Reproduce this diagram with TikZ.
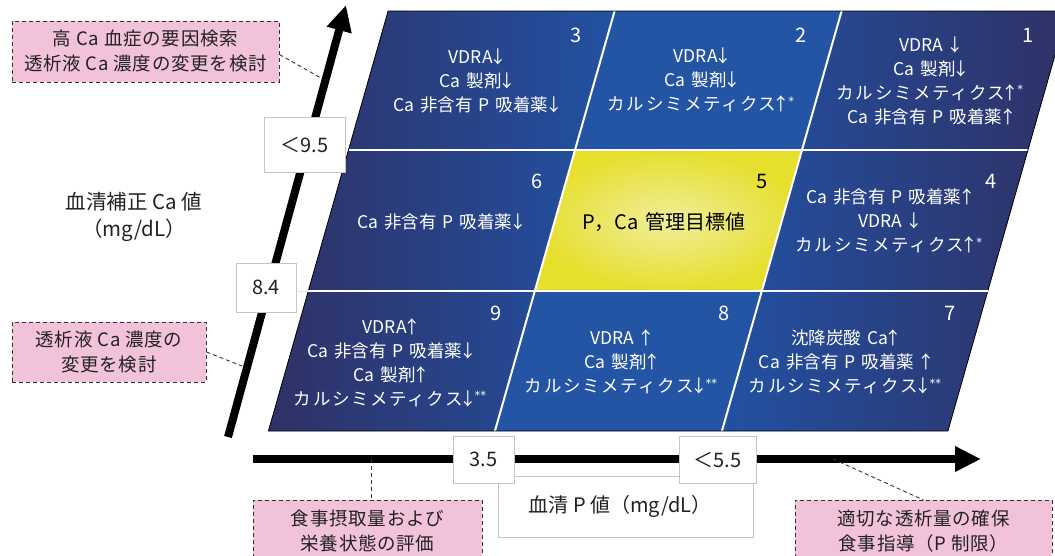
\documentclass[tikz,border=0pt]{standalone}
\usepackage{fontspec}
\setmainfont{Noto Sans CJK JP}
\newfontfamily\kana[LetterSpace=9]{Noto Sans CJK JP}
\newfontfamily\spaced[LetterSpace=4]{Noto Sans CJK JP}
\newfontfamily\djv{DejaVu Sans}
\usetikzlibrary{arrows.meta}
\definecolor{navy}{HTML}{2F3166}
\definecolor{bblue}{HTML}{2251A2}
\definecolor{mblue}{HTML}{2454A4}
\definecolor{pinkf}{HTML}{F2C2DB}
\definecolor{ylight}{HTML}{F0EE9C}
\definecolor{ydark}{HTML}{E6DF2C}
\definecolor{boxline}{HTML}{C4C4C4}
\definecolor{txt}{HTML}{222222}
\newcommand\arrdn{\makebox[0.6em]{↓}}
\newcommand\arrup{\makebox[0.6em]{↑}}
\newcommand\onestar{\kern1.5pt\raisebox{0.32em}{\djv\fontsize{11.5}{11.5}\selectfont *}}
\newcommand\twostar{\kern1.5pt\raisebox{0.32em}{\djv\fontsize{11.5}{11.5}\selectfont **}}
\newcommand\km{{\kana カルシミメティクス}}
\newcommand\gp{\hspace{0.35em}}
\begin{document}
\begin{tikzpicture}[x=1pt,y=-1pt,
  celltext/.style={text=white,font=\fontsize{17.5}{24}\selectfont,align=center,inner sep=0pt},
  cellnum/.style={text=white,font=\fontsize{20}{20}\selectfont,inner sep=0pt},
  valbox/.style={draw=boxline,fill=white,line width=0.8pt,font=\fontsize{20}{20}\selectfont,text=txt,inner sep=0pt},
  notebox/.style={draw=black!80,dash pattern=on 4pt off 3pt,fill=pinkf,line width=0.9pt,font=\spaced\fontsize{18.5}{25}\selectfont,align=center,text=txt,inner sep=0pt},
  note/.style={draw=black!80,dash pattern=on 4pt off 3pt,line width=0.9pt},
  divider/.style={white,line width=2pt},
  bigarrow/.style={line width=8pt,-{Triangle[length=26pt,width=24pt]}}
]
\useasboundingbox (0,0) rectangle (1055,555);
% grid coordinates
\coordinate (L0) at (388.1,11);  \coordinate (A0) at (614.6,11);  \coordinate (B0) at (841.6,11);  \coordinate (R0) at (1067.6,11);
\coordinate (L1) at (348.5,150); \coordinate (A1) at (575,150);   \coordinate (B1) at (802,150);   \coordinate (R1) at (1028,150);
\coordinate (L2) at (308.3,291); \coordinate (A2) at (534.8,291); \coordinate (B2) at (761.8,291); \coordinate (R2) at (987.8,291);
\coordinate (L3) at (268.4,431); \coordinate (A3) at (494.9,431); \coordinate (B3) at (721.9,431); \coordinate (R3) at (947.9,431);
\coordinate (A4) at (493.5,436); \coordinate (B4) at (720.5,436);
% columns
\shade[left color=navy,right color=bblue] (L0) -- (A0) -- (A3) -- (L3) -- cycle;
\fill[mblue] (A0) -- (B0) -- (B3) -- (A3) -- cycle;
\shade[left color=bblue,right color=navy] (B0) -- (R0) -- (R3) -- (B3) -- cycle;
\shade[inner color=ylight,outer color=ydark] (A1) -- (B1) -- (B2) -- (A2) -- cycle;
% dividers
\draw[divider] (L1) -- (R1);
\draw[divider] (A0) -- (A4);
\draw[divider] (B0) -- (B4);
\draw[black,line width=0.8pt] (L0) -- (R0) -- (R3) -- (L3) -- cycle;
% connector end points on the arrows
\coordinate (a1) at (321,78);
\coordinate (a2) at (242,366);
\coordinate (a3) at (371,459);
\coordinate (a4) at (833,459);
% arrows
\coordinate (vs) at (228,437); \coordinate (ve) at (346,5);
\coordinate (hs) at (253,459); \coordinate (he) at (981,459);
\draw[bigarrow] (vs) -- (ve);
\draw[bigarrow] (hs) -- (he);
% value boxes
\node[valbox,minimum width=81pt,minimum height=55pt] (v95) at (304.5,144.5) {\raisebox{-5pt}{＜9.5}};
\node[valbox,minimum width=60pt,minimum height=49pt] (v84) at (266,287.5) {8.4};
\draw[white!75!gray,line width=1pt] (v84.east |- L2) -- (L2);
\draw[divider] (L2) -- (R2);
\node[valbox,minimum width=255pt,minimum height=61pt] (plab) at (625.5,506.5) {\hspace*{-11pt}\raisebox{-3pt}{血清 P 値（mg/dL）}};
\node[valbox,minimum width=61pt,minimum height=47pt] (v35) at (483.5,459.5) {3.5};
\node[valbox,minimum width=77pt,minimum height=47pt] (v55) at (717.5,459.5) {＜5.5};
% axis label
\node[font=\fontsize{20.5}{27}\selectfont,align=center,text=txt,inner sep=0pt] (ylab) at (134,216.5) {血清補正 Ca 値\\（mg/dL）};
% notes
\node[notebox,minimum width=267pt,minimum height=61pt] (n1) at (145.5,51.5) {高 Ca 血症の要因検索\\透析液 Ca 濃度の変更を検討};
\node[notebox,minimum width=194pt,minimum height=60pt] (n2) at (109,352) {透析液 Ca 濃度の\\変更を検討};
\node[notebox,minimum width=229pt,minimum height=62pt,anchor=north] (n3) at (367.5,500) {食事摂取量および\\栄養状態の評価};
\node[notebox,minimum width=257pt,minimum height=62pt,anchor=north] (n4) at (923.5,500) {適切な透析量の確保\\食事指導（P 制限）};
\draw[note] ([yshift=-3pt]n1.east) -- (a1);
\draw[note] (n2.east) -- (a2);
\draw[note] (a3) -- (a3 |- n3.north);
\draw[note] (a4) -- (n4.north);
% cell texts
\node[cellnum] (k3) at (576,35) {3};
\node[celltext] (t3) at (476,81) {VDRA\arrdn\\Ca\gp 製剤\arrdn\\Ca\gp 非含有\gp P\gp 吸着薬\arrdn};
\node[cellnum] (k2) at (801,35) {2};
\node[celltext] (t2) at (701,80) {VDRA\arrdn\\Ca\gp 製剤\arrdn\\\km\arrup\onestar};
\node[cellnum] (k1) at (1028,35) {1};
\node[celltext] (t1) at (930,81) {VDRA\gp\arrdn\\Ca\gp 製剤\arrdn\\\km\arrup\onestar\\Ca\gp 非含有\gp P\gp 吸着薬\arrup};
\node[cellnum] (k6) at (537,181) {6};
\node[celltext] (t6) at (440,222) {Ca\gp 非含有\gp P\gp 吸着薬\arrdn};
\node[cellnum,text=black] (k5) at (762,181) {5};
\node[celltext,text=black,font=\fontsize{20}{24}\selectfont] (t5) at (664,222) {P，Ca\gp 管理目標値};
\node[cellnum] (k4) at (991,181) {4};
\node[celltext] (t4) at (889,221) {Ca\gp 非含有\gp P\gp 吸着薬\arrup\\VDRA\gp\arrdn\\\km\arrup\onestar};
\node[cellnum] (k9) at (496,313) {9};
\node[celltext] (t9) at (390,362.5) {VDRA\arrup\\Ca\gp 非含有\gp P\gp 吸着薬\arrdn\\Ca\gp 製剤\arrup\\\km\arrdn\twostar};
\node[cellnum] (k8) at (724,313) {8};
\node[celltext] (t8) at (621,362) {VDRA\gp\arrup\\Ca\gp 製剤\arrup\\\km\arrdn\twostar};
\node[cellnum] (k7) at (950,313) {7};
\node[celltext] (t7) at (845,362) {沈降炭酸\gp Ca\arrup\\Ca\gp 非含有\gp P\gp 吸着薬\gp\arrup\\\km\arrdn\twostar};
\end{tikzpicture}
\end{document}
